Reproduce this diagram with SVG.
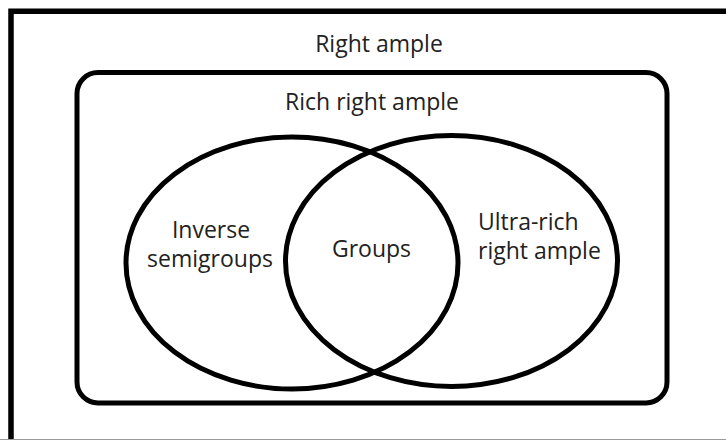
<svg xmlns="http://www.w3.org/2000/svg" width="726" height="440" viewBox="0 0 726 440">
<style>
.frame{fill:none;stroke:#000;stroke-width:5.5}
.shape{fill:none;stroke:#000;stroke-width:5}
.lbl{font-family:"Open Sans","Liberation Sans",sans-serif;font-size:23px;fill:#222}
</style>
<rect width="726" height="440" fill="#fff"/>
<g id="right-ample">
<path class="frame" d="M11,440 V11.2 H726"/>
<line x1="0" y1="439.5" x2="726" y2="439.5" stroke="#999" stroke-width="1"/>
<text class="lbl" x="379" y="52" text-anchor="middle">Right ample</text>
</g>
<g id="rich-right-ample">
<rect class="shape" x="77" y="72.5" width="590" height="330.5" rx="21" ry="21"/>
<text class="lbl" x="372" y="110" text-anchor="middle">Rich right ample</text>
</g>
<g id="inverse-semigroups">
<ellipse class="shape" cx="292" cy="263" rx="166" ry="126"/>
<text class="lbl" x="211" y="238" text-anchor="middle">Inverse</text>
<text class="lbl" x="210" y="266.5" text-anchor="middle">semigroups</text>
</g>
<g id="ultra-rich-right-ample">
<ellipse class="shape" cx="451.5" cy="261" rx="166" ry="125.5"/>
<text class="lbl" x="478" y="230">Ultra-rich</text>
<text class="lbl" x="478" y="258.5">right ample</text>
</g>
<g id="groups">
<text class="lbl" x="371.5" y="256.5" text-anchor="middle">Groups</text>
</g>
<g id="connectors"></g>
</svg>
